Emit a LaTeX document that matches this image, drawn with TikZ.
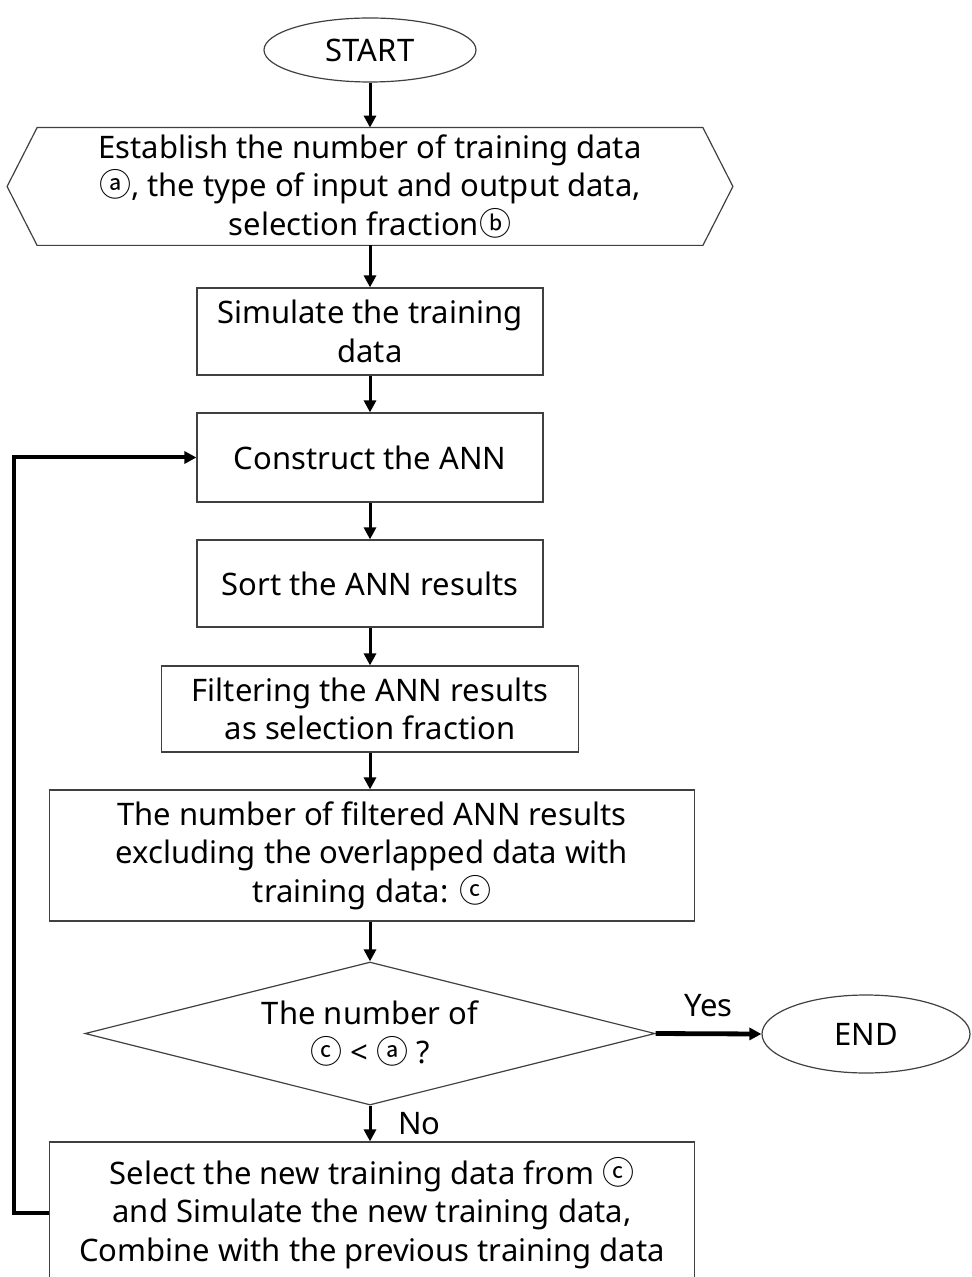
\documentclass[tikz,border=0pt]{standalone}
\usepackage{fontspec}
\setmainfont{Noto Sans}
\newfontfamily\circfont{Noto Sans CJK KR}
\newcommand{\circl}[1]{{\circfont\fontsize{16}{16}\selectfont #1}}
\newcommand{\cia}{\circl{ⓐ}}
\newcommand{\cib}{\circl{ⓑ}}
\newcommand{\cic}{\circl{ⓒ}}
\usetikzlibrary{shapes.geometric,arrows.meta}
\tikzset{
  lbl/.style={font=\fontsize{15.5}{19.25}\selectfont, align=center},
  boxnode/.style={lbl, draw=black!75, line width=0.6pt, rectangle, inner sep=0pt},
  term/.style={lbl, draw=black!75, line width=0.6pt, ellipse, inner sep=0pt},
  arr/.style={draw=black, line width=1.5pt, -{Triangle[length=6pt,width=6pt]}},
}
\begin{document}
\begin{tikzpicture}[x=0.5pt,y=-0.5pt]
\useasboundingbox (0,0) rectangle (972,1277);
\node[term, minimum width=106pt, minimum height=32pt] (start) at (370,50) {START};
\node[lbl, minimum width=332.5pt, minimum height=58.5pt, inner sep=0pt] (est) at (370,186.5)
  {Establish the number of training data\\ \cia, the type of input and output data,\\ selection fraction\cib};
\draw[draw=black!75, line width=0.6pt] (est.north west) -- (est.north east) -- ([xshift=15pt]est.east)
  -- (est.south east) -- (est.south west) -- ([xshift=-15pt]est.west) -- cycle;
\node[boxnode, minimum width=173pt, minimum height=43.5pt] (sim) at (370,331.5) {Simulate the training\\ data};
\node[boxnode, minimum width=173pt, minimum height=44.5pt] (cons) at (370,457.5) {Construct the ANN};
\node[boxnode, minimum width=173pt, minimum height=43.5pt] (sort) at (370,583.5) {Sort the ANN results};
\node[boxnode, minimum width=208.5pt, minimum height=43pt] (filt) at (370,709) {Filtering the ANN results\\ as selection fraction};
\node[boxnode, minimum width=322.5pt, minimum height=65.5pt] (num) at (372,855.5)
  {The number of filtered ANN results\\ excluding the overlapped data with\\ training data: \cic};
\node[lbl, diamond, draw=black!75, line width=0.6pt, aspect=4, inner sep=0pt,
  minimum width=285pt, minimum height=71.5pt] (dec) at (370,1033.5) {The number of\\ \cic{} < \cia{} ?};
\node[term, minimum width=104pt, minimum height=39pt] (end) at (866,1034) {END};
\node[boxnode, minimum width=322.5pt, minimum height=71pt] (sel) at (372,1213)
  {Select the new training data from \cic\\ and Simulate the new training data,\\ Combine with the previous training data};
\coordinate (loop) at (14,457.5);
\draw[arr] (start.south) -- (est.north);
\draw[arr] (est.south) -- (sim.north);
\draw[arr] (sim.south) -- (cons.north);
\draw[arr] (cons.south) -- (sort.north);
\draw[arr] (sort.south) -- (filt.north);
\draw[arr] (filt.south) -- (filt.south |- num.north);
\draw[arr] (filt.south |- num.south) -- (dec.north);
\draw[arr, line width=2.4pt] (dec.east) -- node[lbl, above=4pt] (yes) {Yes} (end.west);
\draw[arr] (dec.south) -- node[lbl, right=10pt] (no) {No} (dec.south |- sel.north);
\draw[arr, line width=2pt] (sel.west) -| (loop) -- (cons.west);
\end{tikzpicture}
\end{document}
